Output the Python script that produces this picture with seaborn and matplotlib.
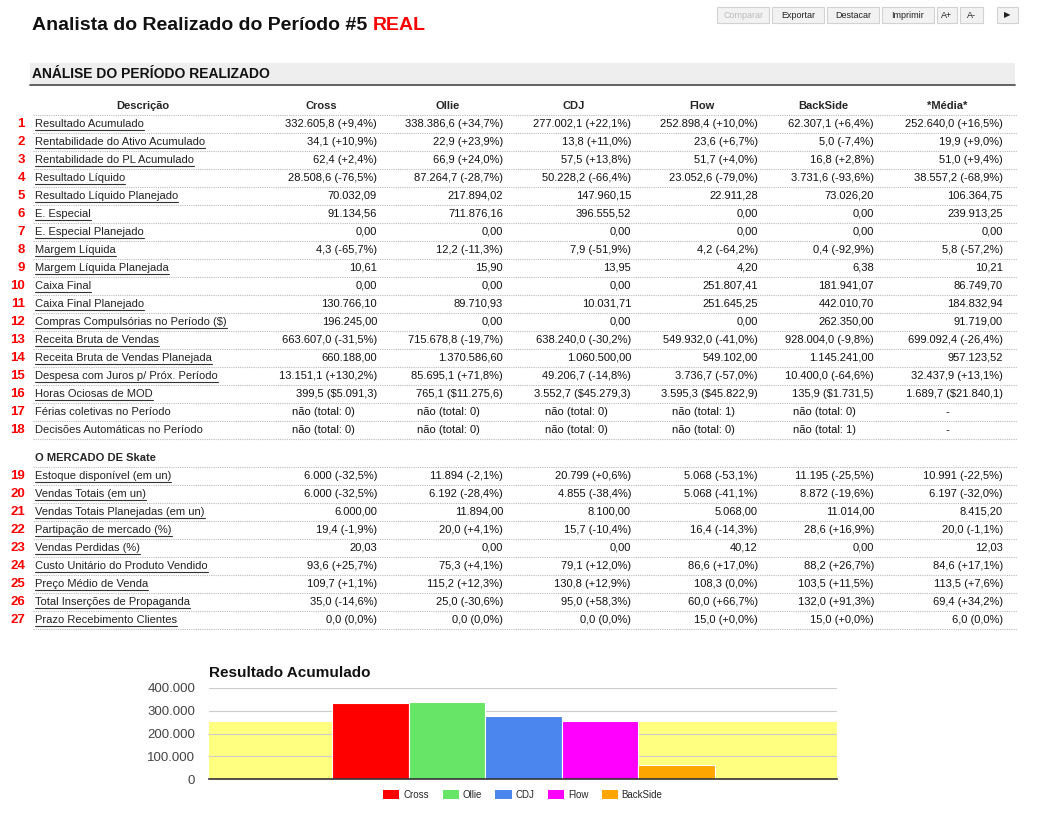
import pandas as pd
import numpy as np
import matplotlib
matplotlib.use("Agg")
import matplotlib.pyplot as plt
import matplotlib.patches as mpatches
from matplotlib.ticker import FuncFormatter
import seaborn as sns

# --- dados da tabela ---
equipes = ["Cross", "Ollie", "CDJ", "Flow", "BackSide"]
cabecalhos = ["Cross", "Ollie", "CDJ", "Flow", "BackSide", "*Média*"]

descricoes_gerais = [
    "Resultado Acumulado", "Rentabilidade do Ativo Acumulado", "Rentabilidade do PL Acumulado",
    "Resultado Líquido", "Resultado Líquido Planejado", "E. Especial", "E. Especial Planejado",
    "Margem Líquida", "Margem Líquida Planejada", "Caixa Final", "Caixa Final Planejado",
    "Compras Compulsórias no Período ($)", "Receita Bruta de Vendas",
    "Receita Bruta de Vendas Planejada", "Despesa com Juros p/ Próx. Período",
    "Horas Ociosas de MOD", "Férias coletivas no Período", "Decisões Automáticas no Período",
]
descricoes_mercado = [
    "Estoque disponível (em un)", "Vendas Totais (em un)", "Vendas Totais Planejadas (em un)",
    "Partipação de mercado (%)", "Vendas Perdidas (%)", "Custo Unitário do Produto Vendido",
    "Preço Médio de Venda", "Total Inserções de Propaganda", "Prazo Recebimento Clientes",
]
sem_link = ["Férias coletivas no Período", "Decisões Automáticas no Período"]

col_cross = [
    "332.605,8 (+9,4%)", "34,1 (+10,9%)", "62,4 (+2,4%)", "28.508,6 (-76,5%)", "70.032,09",
    "91.134,56", "0,00", "4,3 (-65,7%)", "10,61", "0,00", "130.766,10", "196.245,00",
    "663.607,0 (-31,5%)", "660.188,00", "13.151,1 (+130,2%)", "399,5 ($5.091,3)",
    "não (total: 0)", "não (total: 0)",
    "6.000 (-32,5%)", "6.000 (-32,5%)", "6.000,00", "19,4 (-1,9%)", "20,03", "93,6 (+25,7%)",
    "109,7 (+1,1%)", "35,0 (-14,6%)", "0,0 (0,0%)",
]
col_ollie = [
    "338.386,6 (+34,7%)", "22,9 (+23,9%)", "66,9 (+24,0%)", "87.264,7 (-28,7%)", "217.894,02",
    "711.876,16", "0,00", "12,2 (-11,3%)", "15,90", "0,00", "89.710,93", "0,00",
    "715.678,8 (-19,7%)", "1.370.586,60", "85.695,1 (+71,8%)", "765,1 ($11.275,6)",
    "não (total: 0)", "não (total: 0)",
    "11.894 (-2,1%)", "6.192 (-28,4%)", "11.894,00", "20,0 (+4,1%)", "0,00", "75,3 (+4,1%)",
    "115,2 (+12,3%)", "25,0 (-30,6%)", "0,0 (0,0%)",
]
col_cdj = [
    "277.002,1 (+22,1%)", "13,8 (+11,0%)", "57,5 (+13,8%)", "50.228,2 (-66,4%)", "147.960,15",
    "396.555,52", "0,00", "7,9 (-51,9%)", "13,95", "0,00", "10.031,71", "0,00",
    "638.240,0 (-30,2%)", "1.060.500,00", "49.206,7 (-14,8%)", "3.552,7 ($45.279,3)",
    "não (total: 0)", "não (total: 0)",
    "20.799 (+0,6%)", "4.855 (-38,4%)", "8.100,00", "15,7 (-10,4%)", "0,00", "79,1 (+12,0%)",
    "130,8 (+12,9%)", "95,0 (+58,3%)", "0,0 (0,0%)",
]
col_flow = [
    "252.898,4 (+10,0%)", "23,6 (+6,7%)", "51,7 (+4,0%)", "23.052,6 (-79,0%)", "22.911,28",
    "0,00", "0,00", "4,2 (-64,2%)", "4,20", "251.807,41", "251.645,25", "0,00",
    "549.932,0 (-41,0%)", "549.102,00", "3.736,7 (-57,0%)", "3.595,3 ($45.822,9)",
    "não (total: 1)", "não (total: 0)",
    "5.068 (-53,1%)", "5.068 (-41,1%)", "5.068,00", "16,4 (-14,3%)", "40,12", "86,6 (+17,0%)",
    "108,3 (0,0%)", "60,0 (+66,7%)", "15,0 (+0,0%)",
]
col_backside = [
    "62.307,1 (+6,4%)", "5,0 (-7,4%)", "16,8 (+2,8%)", "3.731,6 (-93,6%)", "73.026,20",
    "0,00", "0,00", "0,4 (-92,9%)", "6,38", "181.941,07", "442.010,70", "262.350,00",
    "928.004,0 (-9,8%)", "1.145.241,00", "10.400,0 (-64,6%)", "135,9 ($1.731,5)",
    "não (total: 0)", "não (total: 1)",
    "11.195 (-25,5%)", "8.872 (-19,6%)", "11.014,00", "28,6 (+16,9%)", "0,00", "88,2 (+26,7%)",
    "103,5 (+11,5%)", "132,0 (+91,3%)", "15,0 (+0,0%)",
]
col_media = [
    "252.640,0 (+16,5%)", "19,9 (+9,0%)", "51,0 (+9,4%)", "38.557,2 (-68,9%)", "106.364,75",
    "239.913,25", "0,00", "5,8 (-57,2%)", "10,21", "86.749,70", "184.832,94", "91.719,00",
    "699.092,4 (-26,4%)", "957.123,52", "32.437,9 (+13,1%)", "1.689,7 ($21.840,1)",
    "-", "-",
    "10.991 (-22,5%)", "6.197 (-32,0%)", "8.415,20", "20,0 (-1,1%)", "12,03", "84,6 (+17,1%)",
    "113,5 (+7,6%)", "69,4 (+34,2%)", "6,0 (0,0%)",
]

# --- dados do gráfico ---
resultado_acumulado = [332605.8, 338386.6, 277002.1, 252898.4, 62307.1]
media_resultado = 252640.0
cores = ["#ff0000", "#66e566", "#4a86ee", "#ff00ff", "#ffa500"]

botoes = ["Comparar", "Exportar", "Destacar", "Imprimir", "A+", "A-", "▶"]

# --------------------------------------------------------------
sns.set_style("white")
plt.rcParams["font.family"] = ["Liberation Sans", "DejaVu Sans"]

W, H = 1039, 827
fig = plt.figure(figsize=(W / 100, H / 100), dpi=100)
axT = fig.add_axes([0, 0, 1, 1])
axT.set_xlim(0, W)
axT.set_ylim(H, 0)
axT.axis("off")
renderer = fig.canvas.get_renderer()
inv = axT.transData.inverted()


def largura(t):
    bb = t.get_window_extent(renderer)
    p0 = inv.transform((bb.x0, bb.y0))
    p1 = inv.transform((bb.x1, bb.y1))
    return p0[0], p1[0]


# título
t1 = axT.text(32, 26, "Analista do Realizado do Período #5 ", fontsize=14, fontweight="bold",
              va="center", ha="left", color="#111111")
x0, x1 = largura(t1)
axT.text(x1, 26, "REAL", fontsize=14, fontweight="bold", va="center", ha="left", color="#ff0000")

# botões
pos_botoes = [(717, 769), (772, 824), (827, 879), (882, 934), (937, 957), (960, 983), (997, 1018)]
for nome, (bx0, bx1) in zip(botoes, pos_botoes):
    axT.add_patch(mpatches.Rectangle((bx0, 7), bx1 - bx0, 16, facecolor="#f2f2f2",
                                     edgecolor="#d2d2d2", lw=0.8))
    cor = "#bbbbbb" if nome == "Comparar" else "#222222"
    fam = ["DejaVu Sans"] if nome == "▶" else ["Liberation Sans", "DejaVu Sans"]
    axT.text((bx0 + bx1) / 2, 15, nome, fontsize=6.5 if nome != "▶" else 6, ha="center",
             va="center", color=cor, family=fam)

# faixa do cabeçalho da seção
axT.add_patch(mpatches.Rectangle((30, 63), 985, 22, facecolor="#eeeeee", edgecolor="none"))
axT.plot([30, 1015], [85, 85], color="#555555", lw=1.3)
axT.text(32, 74, "ANÁLISE DO PERÍODO REALIZADO", fontsize=10, fontweight="bold",
         va="center", ha="left", color="#111111")

# cabeçalho da tabela
x_cab = [321, 448, 574, 702, 823, 947]
axT.text(143, 106, "Descrição", fontsize=8, fontweight="bold", ha="center", va="center")
for xc, nome in zip(x_cab, cabecalhos):
    axT.text(xc, 106, nome, fontsize=8, fontweight="bold", ha="center", va="center")
pont = dict(color="#bbbbbb", lw=0.8, linestyle=(0, (1, 1)))
axT.plot([33, 1017], [115, 115], **pont)

colunas = [col_cross, col_ollie, col_cdj, col_flow, col_backside, col_media]
x_dir = [377, 503, 631, 758, 874, 1003]
x_esq = [292, 417, 545, 672, 793, 947]

linhas_y = [124 + 18 * i for i in range(len(descricoes_gerais))]
linhas_y += [476 + 18 * i for i in range(len(descricoes_mercado))]
descricoes = descricoes_gerais + descricoes_mercado

axT.text(35, 458, "O MERCADO DE Skate", fontsize=8, fontweight="bold", ha="left", va="center")
axT.plot([33, 1017], [467, 467], **pont)

for i, (y, desc) in enumerate(zip(linhas_y, descricoes)):
    axT.text(25, y, str(i + 1), fontsize=9.5, fontweight="bold", color="#ff0000",
             ha="right", va="center")
    td = axT.text(35, y, desc, fontsize=8, ha="left", va="center", color="#222222")
    if desc not in sem_link:
        a, b = largura(td)
        axT.plot([a, b], [y + 5.5, y + 5.5], color="#333333", lw=0.8)
    for j, col in enumerate(colunas):
        val = col[i]
        if val.startswith("não"):
            axT.text(x_esq[j], y, val, fontsize=8, ha="left", va="center", color="#111111")
        elif val == "-":
            axT.text(x_esq[j], y, val, fontsize=8, ha="center", va="center", color="#111111")
        else:
            axT.text(x_dir[j], y, val, fontsize=8, ha="right", va="center", color="#111111")
    axT.plot([33, 1017], [y + 9, y + 9], **pont)

# --- gráfico de barras ---
axT.text(209, 673, "Resultado Acumulado", fontsize=11, fontweight="bold", ha="left",
         va="center", color="#111111")

axC = fig.add_axes([209 / W, (H - 779) / H, 628 / W, 91 / H])
df = pd.DataFrame({"equipe": equipes, "resultado": resultado_acumulado})
axC.axhspan(0, media_resultado, color="#ffff80", zorder=0.2, lw=0)
sns.barplot(data=df, x="equipe", y="resultado", hue="equipe", palette=cores, width=1.0,
            saturation=1, edgecolor="white", linewidth=0.8, legend=False, ax=axC, zorder=2)
axC.set_xlim(-2.106, 6.093)
axC.set_ylim(0, 400000)
axC.set_yticks([0, 100000, 200000, 300000, 400000])
axC.yaxis.set_major_formatter(FuncFormatter(lambda v, p: f"{v:,.0f}".replace(",", ".")))
axC.tick_params(axis="y", length=0, labelsize=9.5, labelcolor="#444444", pad=10)
axC.set_xticks([])
axC.set_xlabel("")
axC.set_ylabel("")
axC.set_axisbelow(True)
axC.yaxis.grid(True, color="#cccccc", lw=0.8)
axC.set_facecolor("none")
for s in ["top", "right", "left"]:
    axC.spines[s].set_visible(False)
axC.spines["bottom"].set_color("#333333")
axC.spines["bottom"].set_linewidth(1.2)
axC.spines["bottom"].set_zorder(3)

handles = [mpatches.Patch(facecolor=c, edgecolor="none") for c in cores]
axC.legend(handles, equipes, ncol=5, loc="center", bbox_to_anchor=(0.5, -0.176),
           bbox_transform=axC.transAxes, frameon=False, fontsize=7, handlelength=1.65,
           handleheight=1.0, handletextpad=0.4, columnspacing=1.4, borderaxespad=0)

fig.savefig("out.png", dpi=100)
